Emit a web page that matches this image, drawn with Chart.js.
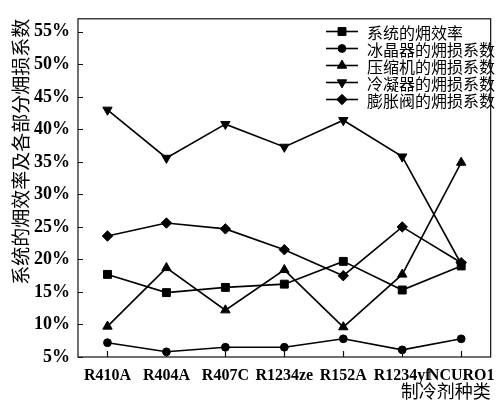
<!DOCTYPE html>
<html>
<head>
<meta charset="utf-8">
<script src="https://cdn.jsdelivr.net/npm/chart.js@4.4.1/dist/chart.umd.min.js"></script>
<style>
  html, body { margin: 0; padding: 0; background: #fff; }
  #wrap { width: 504px; height: 402px; }
</style>
</head>
<body>
<div id="wrap"><canvas id="chart" width="504" height="402"></canvas></div>
<script>
// Refrigerant types on the x axis
const categories = ['R410A', 'R404A', 'R407C', 'R1234ze', 'R152A', 'R1234yf', 'NCURO1'];

// Series names (legend)
const seriesNames = ['系统的㶲效率', '冰晶器的㶲损系数', '压缩机的㶲损系数', '冷凝器的㶲损系数', '膨胀阀的㶲损系数'];

// Values in percent
const systemEfficiency = [17.7, 14.9, 15.7, 16.2, 19.7, 15.3, 19.0];
const crystallizerLoss = [7.2, 5.8, 6.5, 6.5, 7.8, 6.1, 7.8];
const compressorLoss   = [9.7, 18.7, 12.2, 18.4, 9.6, 17.7, 34.9];
const condenserLoss    = [43.0, 35.6, 40.8, 37.3, 41.4, 35.8, 19.3];
const valveLoss        = [23.6, 25.6, 24.7, 21.5, 17.5, 25.0, 19.5];

// y axis range and tick step (percent)
const yMin = 5, yMax = 57, yStep = 5;

const axisTitleY = '系统的㶲效率及各部分㶲损系数';
const axisTitleX = '制冷剂种类';

const seriesValues = [systemEfficiency, crystallizerLoss, compressorLoss, condenserLoss, valveLoss];
const markerStyles = [
  { pointStyle: 'rect', pointRadius: 5.6, rotation: 0 },
  { pointStyle: 'circle', pointRadius: 3.9, rotation: 0 },
  { pointStyle: 'triangle', pointRadius: 5.4, rotation: 0 },
  { pointStyle: 'triangle', pointRadius: 5.4, rotation: 180 },
  { pointStyle: 'rectRot', pointRadius: 5.2, rotation: 0 }
];

const datasets = seriesValues.map((vals, i) => ({
  label: seriesNames[i],
  data: vals,
  borderColor: '#000',
  backgroundColor: '#000',
  borderWidth: 1.6,
  pointStyle: markerStyles[i].pointStyle,
  pointRadius: markerStyles[i].pointRadius,
  pointRotation: markerStyles[i].rotation,
  pointBorderWidth: 1,
  pointBackgroundColor: '#000',
  pointBorderColor: '#000',
  tension: 0,
  fill: false
}));

const CJK = '"Noto Sans CJK SC", "Noto Sans", sans-serif';
const SERIF = '"Liberation Serif", "Times New Roman", serif';

// Frame, inward tick marks and in-plot legend
const framePlugin = {
  id: 'frame',
  afterDatasetsDraw(chart) {
    const { ctx, chartArea: a, scales } = chart;
    ctx.save();
    ctx.strokeStyle = '#111';
    ctx.lineWidth = 1.2;
    ctx.strokeRect(a.left, a.top, a.right - a.left, a.bottom - a.top);

    // inward ticks on y
    ctx.beginPath();
    scales.y.ticks.forEach(t => {
      const py = Math.round(scales.y.getPixelForValue(t.value)) + 0.5;
      ctx.moveTo(a.left, py);
      ctx.lineTo(a.left + 5, py);
    });
    // inward ticks on x at category centres
    categories.forEach((c, i) => {
      const px = Math.round(scales.x.getPixelForValue(i)) + 0.5;
      ctx.moveTo(px, a.bottom);
      ctx.lineTo(px, a.bottom - 6);
    });
    ctx.stroke();

    // legend
    const lg = chart.options.plugins.frame;
    ctx.font = '16px ' + CJK;
    ctx.textBaseline = 'middle';
    ctx.textAlign = 'left';
    ctx.fillStyle = '#000';
    chart.data.datasets.forEach((ds, i) => {
      const y = lg.top + i * lg.rowGap;
      ctx.beginPath();
      ctx.strokeStyle = '#000';
      ctx.lineWidth = 1.6;
      ctx.moveTo(lg.left, y);
      ctx.lineTo(lg.left + lg.lineLen, y);
      ctx.stroke();
      ctx.fillStyle = '#000';
      ctx.lineWidth = 1;
      Chart.helpers.drawPoint(ctx, {
        pointStyle: ds.pointStyle,
        radius: ds.pointRadius,
        rotation: ds.pointRotation,
        borderWidth: 1
      }, lg.left + lg.lineLen / 2, y);
      ctx.fillStyle = '#000';
      ctx.fillText(ds.label, lg.left + lg.lineLen + lg.textGap, y + 1);
    });
    ctx.restore();
  }
};

new Chart(document.getElementById('chart'), {
  type: 'line',
  data: { labels: categories, datasets },
  plugins: [framePlugin],
  options: {
    responsive: false,
    animation: false,
    devicePixelRatio: 1,
    layout: { padding: { top: 17, right: 6, left: 0, bottom: 0 } },
    plugins: {
      legend: { display: false },
      tooltip: { enabled: false },
      frame: { left: 326, top: 31.5, rowGap: 17, lineLen: 32, textGap: 9 }
    },
    scales: {
      x: {
        type: 'category',
        offset: true,
        grid: { display: false, drawTicks: false },
        border: { display: false },
        ticks: {
          autoSkip: false,
          maxRotation: 0,
          minRotation: 0,
          padding: 9,
          color: '#000',
          font: { family: SERIF, size: 16, weight: 'bold' }
        },
        title: {
          display: true,
          text: axisTitleX,
          align: 'end',
          color: '#000',
          padding: { top: 0, bottom: 0 },
          font: { family: CJK, size: 18 }
        },
        afterFit(scale) { scale.height = 45; }
      },
      y: {
        min: yMin,
        max: yMax,
        grid: { display: false, drawTicks: false },
        border: { display: false },
        ticks: {
          stepSize: yStep,
          includeBounds: false,
          padding: 8,
          color: '#000',
          font: { family: SERIF, size: 18, weight: 'bold' },
          callback: v => v + '%'
        },
        title: {
          display: true,
          text: axisTitleY,
          align: 'end',
          color: '#000',
          padding: { top: 9, bottom: 0 },
          font: { family: CJK, size: 19 }
        },
        afterFit(scale) { scale.width = 78; }
      }
    }
  }
});
</script>
</body>
</html>
